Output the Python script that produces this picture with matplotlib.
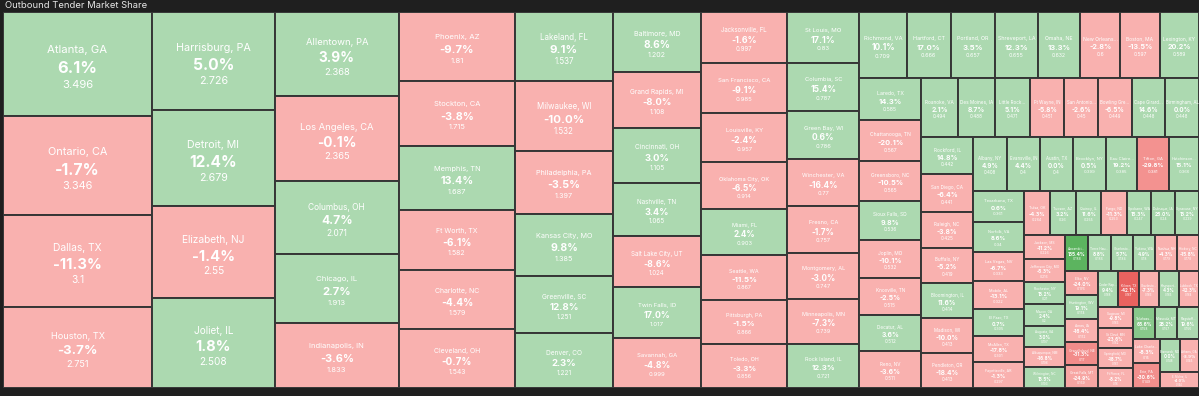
import numpy as np
import matplotlib.pyplot as plt
from matplotlib.patches import Rectangle
from matplotlib.colors import to_rgb

# market names, change vs prior period (%), outbound tender market share
markets = [
    "Atlanta, GA", "Ontario, CA", "Dallas, TX", "Houston, TX",
    "Harrisburg, PA", "Detroit, MI", "Elizabeth, NJ", "Joliet, IL",
    "Allentown, PA", "Los Angeles, CA", "Columbus, OH", "Chicago, IL", "Indianapolis, IN",
    "Phoenix, AZ", "Stockton, CA", "Memphis, TN", "Ft Worth, TX", "Charlotte, NC", "Cleveland, OH",
    "Lakeland, FL", "Milwaukee, WI", "Philadelphia, PA", "Kansas City, MO", "Greenville, SC", "Denver, CO",
    "Baltimore, MD", "Grand Rapids, MI", "Cincinnati, OH", "Nashville, TN", "Salt Lake City, UT",
    "Twin Falls, ID", "Savannah, GA",
    "Jacksonville, FL", "San Francisco, CA", "Louisville, KY", "Oklahoma City, OK", "Miami, FL",
    "Seattle, WA", "Pittsburgh, PA", "Toledo, OH",
    "St Louis, MO", "Columbia, SC", "Green Bay, WI", "Winchester, VA", "Fresno, CA",
    "Montgomery, AL", "Minneapolis, MN", "Rock Island, IL",
    "Richmond, VA", "Hartford, CT", "Portland, OR", "Shreveport, LA", "Omaha, NE",
    "New Orleans, LA", "Boston, MA", "Lexington, KY",
    "Laredo, TX", "Chattanooga, TN", "Greensboro, NC", "Sioux Falls, SD", "Joplin, MO",
    "Knoxville, TN", "Decatur, AL", "Reno, NV",
    "Roanoke, VA", "Des Moines, IA", "Little Rock, AR", "Ft Wayne, IN", "San Antonio, TX",
    "Bowling Green, KY", "Cape Girardeau, MO", "Birmingham, AL",
    "Rockford, IL", "San Diego, CA", "Raleigh, NC", "Buffalo, NY", "Bloomington, IL",
    "Madison, WI", "Pendleton, OR",
    "Albany, NY", "Evansville, IN", "Austin, TX", "Brooklyn, NY", "Eau Claire, WI",
    "Tifton, GA", "Hutchinson, KS",
    "Texarkana, TX", "Norfolk, VA", "Las Vegas, NV", "Mobile, AL", "El Paso, TX",
    "McAllen, TX", "Fayetteville, AR",
    "Tulsa, OK", "Tucson, AZ", "Quincy, IL", "Fargo, ND", "Spokane, WA", "Dubuque, IA", "Syracuse, NY",
    "Jackson, MS", "Jefferson City, MO", "Rochester, NY", "Macon, GA", "Augusta, GA", "Albuquerque, NM",
    "Wilmington, NC", "Alexandria, VA", "Terre Haute, IN", "Charleston, WV", "Yakima, WA", "Nashua, NH",
    "Hickory, NC", "Elko, NV", "Huntington, WV", "Ames, IA", "Grand Island, NE", "Great Falls, MT",
    "Cedar Rapids, IA", "Killeen, TX", "Charleston, SC", "Kingsport, TN", "Lubbock, TX",
    "Saginaw, MI", "St Cloud, MN", "Springfield, MO", "Ft Pierce, FL",
    "Tallahassee, FL", "Missoula, MT", "Flagstaff, AZ",
    "Lake Charles, LA", "Erie, PA", "Bismarck, ND",
    "Athens, GA", "E. Moline, IL",
]

change_pct = [
    6.1, -1.7, -11.3, -3.7,
    5.0, 12.4, -1.4, 1.8,
    3.9, -0.1, 4.7, 2.7, -3.6,
    -9.7, -3.8, 13.4, -6.1, -4.4, -0.7,
    9.1, -10.0, -3.5, 9.8, 12.8, 2.3,
    8.6, -8.0, 3.0, 3.4, -8.6, 17.0, -4.8,
    -1.6, -9.1, -2.4, -6.5, 2.4, -11.5, -1.5, -3.3,
    17.1, 15.4, 0.6, -16.4, -1.7, -3.0, -7.3, 12.3,
    10.1, 17.0, 3.5, 12.3, 13.3, -2.8, -13.5, 20.2,
    14.3, -20.1, -10.5, 9.8, -10.1, -2.5, 3.6, -3.6,
    2.1, 8.7, 5.1, -5.8, -2.6, -6.5, 14.6, 0.0,
    14.8, -6.4, -3.8, -5.2, 11.6, -10.0, -18.4,
    4.9, 4.4, 0.0, 0.5, 19.2, -29.8, 15.1,
    0.6, 8.6, -6.7, -13.1, 0.7, -17.8, -1.3,
    -4.3, 3.2, 11.6, -11.3, 15.3, 25.0, 13.2,
    -11.2, -5.3, 13.2, 2.4, 3.0, -16.8,
    13.5, 155.4, 8.8, 5.7, 4.9, -4.3,
    -15.8, -24.0, 19.1, -16.4, -31.3, -24.9,
    9.4, -42.1, -7.3, 4.3, -12.3,
    -9.8, -23.6, -18.7, -8.2,
    65.6, 28.2, 19.6,
    -8.3, -30.6, 0.0,
    -3.9, -4.0,
]

share = [
    3.496, 3.346, 3.1, 2.751,
    2.726, 2.679, 2.55, 2.508,
    2.368, 2.365, 2.071, 1.913, 1.833,
    1.81, 1.715, 1.687, 1.582, 1.579, 1.543,
    1.537, 1.532, 1.397, 1.385, 1.251, 1.221,
    1.202, 1.108, 1.105, 1.065, 1.024, 1.017, 0.999,
    0.997, 0.985, 0.957, 0.914, 0.903, 0.867, 0.866, 0.856,
    0.83, 0.787, 0.786, 0.77, 0.757, 0.747, 0.739, 0.721,
    0.709, 0.666, 0.657, 0.655, 0.632, 0.6, 0.597, 0.589,
    0.585, 0.567, 0.565, 0.536, 0.532, 0.515, 0.512, 0.511,
    0.494, 0.488, 0.471, 0.451, 0.45, 0.449, 0.448, 0.448,
    0.442, 0.441, 0.425, 0.419, 0.414, 0.413, 0.413,
    0.408, 0.4, 0.4, 0.399, 0.385, 0.381, 0.366,
    0.361, 0.34, 0.333, 0.322, 0.305, 0.301, 0.297,
    0.264, 0.26, 0.255, 0.253, 0.247, 0.24, 0.239,
    0.226, 0.216, 0.21, 0.2, 0.197, 0.196,
    0.193, 0.188, 0.186, 0.184, 0.18, 0.179,
    0.178, 0.176, 0.174, 0.172, 0.17, 0.169,
    0.168, 0.167, 0.166, 0.165, 0.164,
    0.163, 0.162, 0.161, 0.16,
    0.158, 0.157, 0.156,
    0.15, 0.149, 0.148,
    0.145, 0.144,
]


# squarified treemap, golden-ratio target (same idea as d3.treemapSquarify)
def squarify(values, x0, y0, x1, y1, ratio=(1 + 5 ** 0.5) / 2):
    rects = []
    n = len(values)
    remaining = float(sum(values))
    i0 = 0
    while i0 < n:
        dx, dy = x1 - x0, y1 - y0
        i1 = i0 + 1
        s = mn = mx = values[i0]
        alpha = max(dy / dx, dx / dy) / (remaining * ratio)
        beta = s * s * alpha
        best = max(mx / beta, beta / mn)
        while i1 < n:
            v = values[i1]
            s2 = s + v
            beta = s2 * s2 * alpha
            r = max(max(mx, v) / beta, beta / min(mn, v))
            if r > best:
                break
            s, mn, mx, best = s2, min(mn, v), max(mx, v), r
            i1 += 1
        row = values[i0:i1]
        if dx < dy:  # horizontal strip across the top
            h = dy * s / remaining
            x = x0
            for v in row:
                w = dx * v / s
                rects.append((x, y0, w, h))
                x += w
            y0 += h
        else:  # vertical strip on the left
            w = dx * s / remaining
            y = y0
            for v in row:
                h = dy * v / s
                rects.append((x0, y, w, h))
                y += h
            x0 += w
        remaining -= s
        i0 = i1
    return rects


W, H = 1196, 376
rects = squarify(share, 0, 0, W, H)

green_lo, green_hi = np.array(to_rgb("#acd9b0")), np.array(to_rgb("#5cb45f"))
red_lo, red_hi = np.array(to_rgb("#f9b1af")), np.array(to_rgb("#e85a57"))


def cell_color(p):
    if p >= 0:
        t = np.clip((p - 20) / 100, 0, 1)
        return green_lo + (green_hi - green_lo) * t
    t = np.clip((-p - 22) / 22, 0, 1)
    return red_lo + (red_hi - red_lo) * t


def fmt_val(v):
    return f"{v:.3f}".rstrip("0").rstrip(".")


plt.rcParams['font.family'] = ['Inter', 'DejaVu Sans']
fig = plt.figure(figsize=(11.99, 3.96), dpi=100, facecolor="#1f1f1f")
ax = fig.add_axes([3 / 1199, 8 / 396, W / 1199, H / 396])
ax.set_facecolor("#1f1f1f")
ax.set_xlim(0, W)
ax.set_ylim(H, 0)
ax.axis("off")

for (x, y, w, h), name, p, v in zip(rects, markets, change_pct, share):
    ax.add_patch(Rectangle((x, y), w, h, facecolor=cell_color(p), edgecolor="#363636", linewidth=1.4))
    f = min(12.0, 0.1 * min(w, h) + 1.0)  # label size in px
    maxch = int(0.95 * w / (0.52 * f))
    label = name if len(name) <= maxch else name[:max(maxch - 3, 1)] + "..."
    cx, cy = x + w / 2, y + h / 2
    pt = f * 0.72
    ax.text(cx, cy - 1.2 * f, label, ha="center", va="center", color="white", fontsize=pt)
    ax.text(cx, cy + 0.45 * f, f"{p:.1f}%", ha="center", va="center", color="white",
            fontsize=pt * 1.45, fontweight="bold")
    ax.text(cx, cy + 1.9 * f, fmt_val(v), ha="center", va="center", color="white", fontsize=pt)

fig.text(5 / 1199, 1 - 6 / 396, "Outbound Tender Market Share", color="#e6e6e6",
         fontsize=6.8, ha="left", va="center")

fig.savefig("out.png", dpi=100, facecolor=fig.get_facecolor())
